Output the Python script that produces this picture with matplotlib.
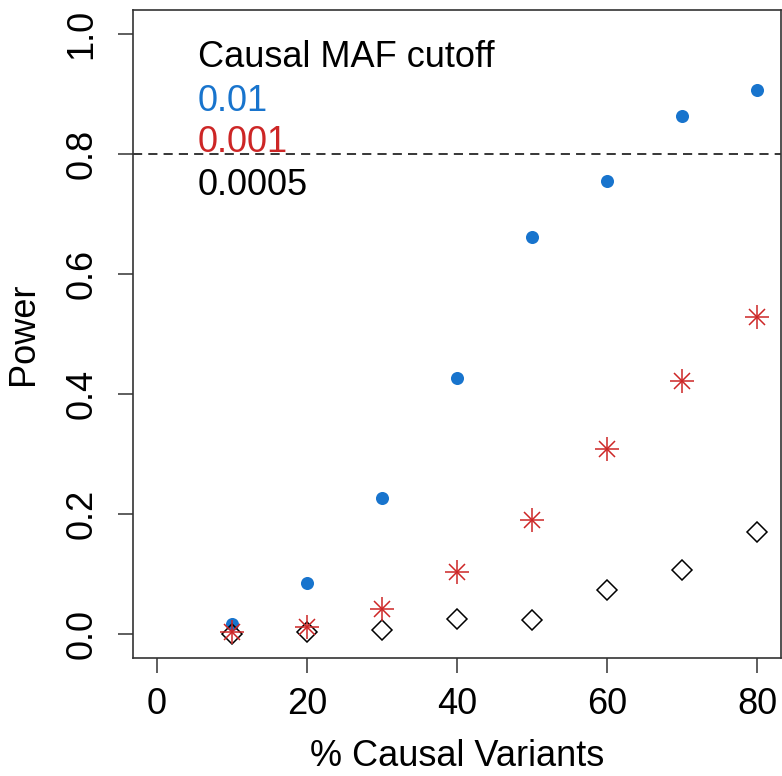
import matplotlib
matplotlib.use('Agg')
import matplotlib.pyplot as plt

plt.rcParams['font.family'] = ['Liberation Sans', 'DejaVu Sans']

# % causal variants
pct_causal = [10, 20, 30, 40, 50, 60, 70, 80]
# power per causal MAF cutoff
power_001 = [0.017, 0.085, 0.227, 0.427, 0.661, 0.755, 0.863, 0.906]
power_0001 = [0.003, 0.012, 0.042, 0.104, 0.190, 0.309, 0.421, 0.529]
power_00005 = [0.000, 0.003, 0.007, 0.025, 0.023, 0.073, 0.107, 0.170]

cutoff_labels = ['0.01', '0.001', '0.0005']
blue = '#1874CD'
red = '#CD2626'

fig = plt.figure(figsize=(7.82, 7.76), dpi=100)
# box edges in pixels: left 133, right 781, top 10, bottom 658
ax = fig.add_axes([133 / 782, (776 - 658) / 776, 648 / 782, 648 / 776])

fs = 26

ax.plot(pct_causal, power_001, 'o', color=blue, markersize=9.4, markeredgewidth=0, zorder=3)
ax.plot(pct_causal, power_00005, 'D', color='black', markerfacecolor='none',
        markersize=10.2, markeredgewidth=1.1, zorder=4)
# R-style asterisk: plus + cross
ax.plot(pct_causal, power_0001, '+', color=red, markersize=17, markeredgewidth=1.1, zorder=5)
ax.plot(pct_causal, power_0001, 'x', color=red, markersize=12, markeredgewidth=1.1, zorder=5)

ax.axhline(0.8, color='black', lw=1.1, linestyle=(0, (6, 4)), zorder=2)

ax.set_xlim(-3.2, 83.2)
ax.set_ylim(-0.04, 1.04)
ax.set_xticks([0, 20, 40, 60, 80])
ax.set_yticks([0.0, 0.2, 0.4, 0.6, 0.8, 1.0])
ax.set_yticklabels(['0.0', '0.2', '0.4', '0.6', '0.8', '1.0'], rotation=90, va='center')
ax.tick_params(axis='both', labelsize=fs, length=11, width=1.1, color='#333333', pad=10)
ax.tick_params(axis='y', pad=13)

for s in ax.spines.values():
    s.set_linewidth(1.2)
    s.set_color('#333333')

ax.set_xlabel('% Causal Variants', fontsize=fs, labelpad=12)
ax.set_ylabel('Power', fontsize=fs, labelpad=17)

# legend as coloured text
ax.text(0.100, 0.912, 'Causal MAF cutoff', transform=ax.transAxes, fontsize=fs,
        va='baseline', ha='left', color='black')
for lab, col, yy in zip(cutoff_labels, [blue, red, 'black'], [0.844, 0.781, 0.714]):
    ax.text(0.100, yy, lab, transform=ax.transAxes, fontsize=fs,
            va='baseline', ha='left', color=col)

fig.savefig('out.png', dpi=100)
